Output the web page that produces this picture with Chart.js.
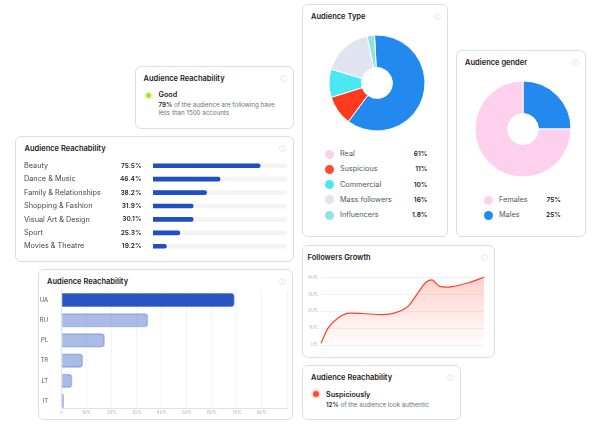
<!DOCTYPE html>
<html>
<head>
<meta charset="utf-8">
<script src="https://cdn.jsdelivr.net/npm/chart.js@4"></script>
<style>
  html, body { margin: 0; padding: 0; background: #fff; }
  body { width: 598px; height: 424px; position: relative; overflow: hidden; font-family: Inter, sans-serif; color: #1f2024; }
  .card { position: absolute; box-sizing: border-box; background: #fff; border: 1px solid #dcdde0; border-radius: 6px; }
  .title { position: absolute; font-size: 7.5px; font-weight: 600; line-height: 10px; white-space: nowrap; }
  .info { position: absolute; width: 7px; height: 7px; box-sizing: border-box; border: 1px solid #e6e7ea; border-radius: 50%; font-size: 4px; line-height: 5px; text-align: center; color: #d4d5da; }
  .txt { position: absolute; white-space: nowrap; line-height: 10px; }
  .dot { position: absolute; border-radius: 50%; }
  canvas { position: absolute; }
</style>
</head>
<body>
<div id="page"></div>
<canvas id="type" width="110" height="110" style="left:322px;top:28px"></canvas>
<canvas id="gender" width="110" height="110" style="left:468px;top:74px"></canvas>
<canvas id="topics" width="263" height="94" style="left:24px;top:159px"></canvas>
<canvas id="countries" width="254" height="134" style="left:38px;top:285px"></canvas>
<canvas id="growth" width="192" height="87" style="left:302px;top:270px"></canvas>
<script>
// audience type
const typeLabels = ['Real', 'Suspicious', 'Commercial', 'Mass followers', 'Influencers'];
const typeShown = ['61%', '11%', '10%', '16%', '1.8%'];
const typeSlices = [61, 10, 9.5, 17, 2.5];
const typeColors = ['#2389ee', '#ff3b1f', '#4ae8f2', '#e0e3f0', '#93e2e0'];
const typeDots = ['#fdd0ee', '#ff4a32', '#4ae8f2', '#e0e3f0', '#93e2e0'];

// gender
const genderLabels = ['Males', 'Females'];
const genderValues = [25, 75];
const genderColors = ['#2389ee', '#fdd0ee'];

// topics list
const topicLabels = ['Beauty', 'Dance & Music', 'Family & Relationships', 'Shopping & Fashion', 'Visual Art & Design', 'Sport', 'Movies & Theatre'];
const topicShown = ['75.5%', '46.4%', '38.2%', '31.9%', '30.1%', '25.3%', '19.2%'];
const topicBars = [80, 50, 40, 30, 30, 20, 10];
const topicTrack = [100, 100, 100, 100, 100, 100, 100];

// countries
const countryLabels = ['UA', 'RU', 'PL', 'TR', 'LT', 'IT'];
const countryValues = [69, 34.5, 17.2, 8.5, 4.2, 0.8];

// followers growth
const growthX = [0, 7, 17, 29, 41, 61, 74, 87, 97, 105, 111, 114, 118, 125, 131, 147, 163];
const growthY = [1, 10, 16, 18.8, 18.6, 18, 19, 23, 31, 37.2, 38.5, 37, 34.8, 34.2, 34.5, 36.8, 40];

const page = document.getElementById('page');

function add(cls, css, text) {
  const el = document.createElement('div');
  el.className = cls;
  el.style.cssText = css;
  if (text) el.innerHTML = text;
  page.appendChild(el);
}

function card(x, y, w, h, title, tx, ty, ix) {
  add('card', `left:${x}px;top:${y}px;width:${w}px;height:${h}px`);
  add('title', `left:${tx}px;top:${ty - 4.4}px`, title);
  add('info', `left:${ix - 3.5}px;top:${ty - 3.5}px`, 'i');
}

card(135, 66, 159, 63, 'Audience Reachability', 143.5, 78.5, 283);
card(15, 136, 279, 126, 'Audience Reachability', 24.5, 148.5, 282.5);
card(38, 269, 255, 151, 'Audience Reachability', 47, 281.5, 282.5);
card(302, 4, 146, 233, 'Audience Type', 311, 16.5, 437.5);
card(456, 50, 130, 187, 'Audience gender', 465, 62, 575.5);
card(302, 245, 193, 113, 'Followers Growth', 307.5, 257, 484);
card(302, 365, 159, 55, 'Audience Reachability', 311, 377.5, 450);

// status cards
add('dot', 'left:144px;top:90.5px;width:9px;height:9px;background:#eef9d8');
add('dot', 'left:146px;top:92.5px;width:5px;height:5px;background:#a3e22e');
add('txt', 'left:158.5px;top:90px;font-size:7.2px;font-weight:600', 'Good');
add('txt', 'left:158.5px;top:100px;font-size:6.2px;color:#6d6f76', '<b style="color:#2a2b30;font-weight:600">79%</b> of the audience are following have');
add('txt', 'left:158.5px;top:107.5px;font-size:6.2px;color:#6d6f76', 'less than 1500 accounts');
add('dot', 'left:310.5px;top:389px;width:10px;height:10px;background:#ffe0db');
add('dot', 'left:312.5px;top:391px;width:6px;height:6px;background:#ff4a32');
add('txt', 'left:326px;top:389.5px;font-size:7.2px;font-weight:600', 'Suspiciously');
add('txt', 'left:326px;top:399.5px;font-size:6.2px;color:#6d6f76', '<b style="color:#2a2b30;font-weight:600">12%</b> of the audience look authentic');

// legends
function legendRow(dotX, y, color, label, shown, labelX, rightX) {
  add('dot', `left:${dotX - 4.5}px;top:${y - 4.5}px;width:9px;height:9px;background:${color}`);
  add('txt', `left:${labelX}px;top:${y - 5}px;font-size:7.3px;color:#55575e`, label);
  add('txt', `left:${rightX - 40}px;width:40px;text-align:right;top:${y - 5}px;font-size:6.6px;font-weight:600`, shown);
}
const typeRows = [154, 169, 184.5, 199.5, 215];
typeLabels.forEach((l, i) => legendRow(329.7, typeRows[i], typeDots[i], l, typeShown[i], 340, 427.5));
legendRow(488, 200, '#fdd0ee', 'Females', '75%', 499, 561);
legendRow(488, 215, '#2389ee', 'Males', '25%', 499, 561);

Chart.defaults.animation = false;
Chart.defaults.responsive = false;
Chart.defaults.font.family = 'Inter, sans-serif';
Chart.defaults.plugins.legend.display = false;
Chart.defaults.plugins.tooltip.enabled = false;

function doughnut(id, labels, values, colors, rotation) {
  new Chart(document.getElementById(id), {
    type: 'doughnut',
    data: { labels: labels, datasets: [{ data: values, backgroundColor: colors, borderColor: '#fff', borderWidth: 1 }] },
    options: { radius: 48, cutout: 17.5, rotation: rotation }
  });
}
doughnut('type', typeLabels, typeSlices, typeColors, -3);
doughnut('gender', genderLabels, genderValues, genderColors, 0);

new Chart(document.getElementById('topics'), {
  type: 'bar',
  data: {
    labels: topicLabels,
    datasets: [
      { data: topicBars, backgroundColor: '#1f4fc4', barThickness: 4, borderRadius: 2, order: 1 },
      { data: topicTrack, backgroundColor: '#f4f4f6', barThickness: 4, borderRadius: 2, order: 2 }
    ]
  },
  options: {
    indexAxis: 'y',
    grouped: false,
    layout: { padding: 0, autoPadding: false },
    scales: {
      x: { display: false, min: 0, max: 100 },
      y: {
        // tick label half-heights would otherwise squeeze the rows
        afterFit: s => { s.width = 129; s.paddingTop = 0; s.paddingBottom = 0; },
        border: { display: false },
        grid: { display: false },
        ticks: { crossAlign: 'far', padding: 0, color: '#45474e', font: { size: 7.3 } }
      }
    }
  },
  plugins: [{
    id: 'shownValues',
    afterDraw(chart) {
      const c = chart.ctx, y = chart.scales.y;
      c.save();
      c.font = '600 6.6px Inter, sans-serif';
      c.fillStyle = '#1f2024';
      c.textAlign = 'right';
      c.textBaseline = 'middle';
      topicShown.forEach((t, i) => c.fillText(t, 117.5, y.getPixelForValue(i)));
      c.restore();
    }
  }]
});

new Chart(document.getElementById('countries'), {
  type: 'bar',
  data: {
    datasets: [{
      data: countryValues.map((v, i) => ({ x: v, y: i })),
      backgroundColor: countryValues.map((v, i) => i === 0 ? '#2a55c0' : 'rgba(42,85,192,.4)'),
      borderColor: countryValues.map((v, i) => i === 0 ? '#7f9be0' : '#c3d0ef'),
      borderWidth: 1,
      borderSkipped: 'left',
      borderRadius: { topRight: 4, bottomRight: 4 },
      barThickness: 14
    }]
  },
  options: {
    indexAxis: 'y',
    layout: { padding: { top: 4.9, right: 5 }, autoPadding: false },
    scales: {
      x: {
        min: 0, max: 90,
        afterFit: s => { s.height = 10.5; },
        border: { color: '#dfe1e8' },
        grid: { color: '#f3f4f7', drawTicks: false },
        ticks: {
          stepSize: 10, padding: 2, maxRotation: 0, autoSkip: false, color: '#a9acb6', font: { size: 4.4 },
          callback: v => v === 90 ? '' : v === 0 ? '0' : v + '%'
        }
      },
      y: {
        type: 'linear', reverse: true, min: -0.5, max: 5.37, offset: false,
        afterFit: s => { s.width = 23.7; s.paddingTop = 0; s.paddingBottom = 0; },
        border: { color: '#dfe1e8' },
        grid: { display: false, offset: false },
        ticks: {
          stepSize: 1, padding: 5.5, autoSkip: false, color: '#55575e', font: { size: 6 },
          callback: v => countryLabels[v] || ''
        }
      }
    }
  }
});

new Chart(document.getElementById('growth'), {
  type: 'line',
  data: {
    datasets: [{
      data: growthX.map((x, i) => ({ x: x, y: growthY[i] })),
      borderColor: '#ff4026',
      borderWidth: 1.2,
      pointRadius: 0,
      cubicInterpolationMode: 'monotone',
      fill: 'origin',
      clip: false,
      backgroundColor: ctx => {
        const a = ctx.chart.chartArea;
        if (!a) return 'transparent';
        const g = ctx.chart.ctx.createLinearGradient(0, a.top, 0, a.bottom + 3);
        g.addColorStop(0, 'rgba(255,64,38,.24)');
        g.addColorStop(1, 'rgba(255,64,38,0)');
        return g;
      }
    }]
  },
  options: {
    layout: { padding: { top: 7.3, right: 9.7, bottom: 12 }, autoPadding: false },
    scales: {
      x: { type: 'linear', display: false, min: 0, max: 163 },
      y: {
        min: 0, max: 40,
        afterFit: s => { s.width = 19; },
        border: { display: false },
        grid: { color: '#f0f1f5', drawTicks: false },
        ticks: { stepSize: 10, padding: 3, color: '#a9acb6', font: { size: 4.4 }, callback: v => v + '%' }
      }
    }
  }
});
</script>
</body>
</html>
